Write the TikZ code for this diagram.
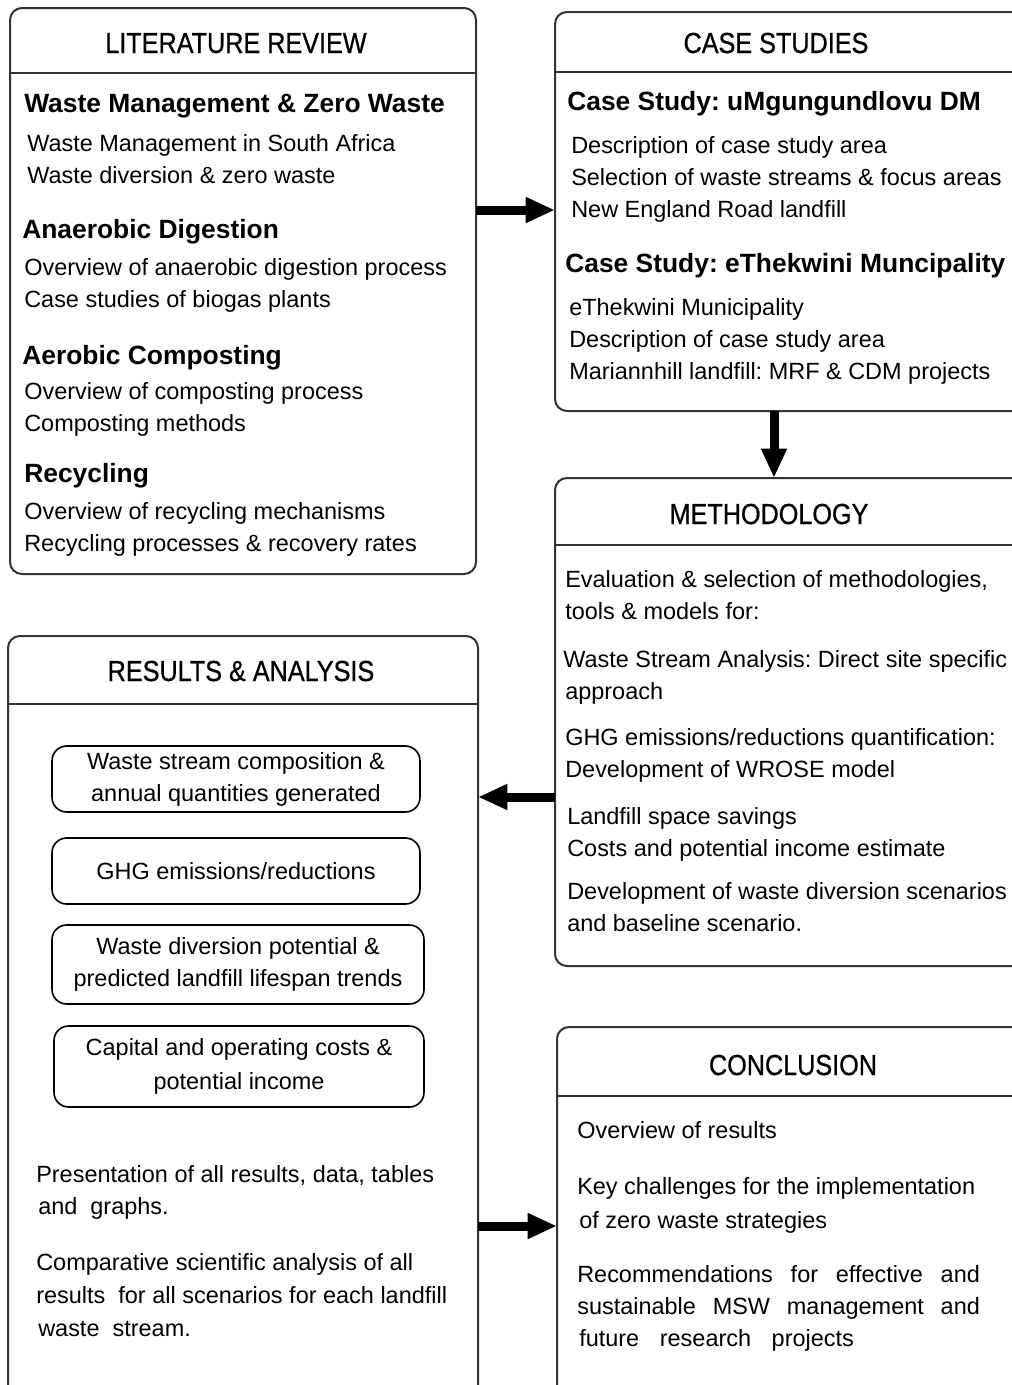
\documentclass[tikz,border=0pt]{standalone}
\usepackage{fontspec}
\setmainfont{Liberation Sans}
\newfontface\titleface{Liberation Sans}[FakeBold=0.8]
\usetikzlibrary{arrows.meta}
\frenchspacing
\newcommand{\bodyf}{\fontsize{17.6}{24}\selectfont}
\newcommand{\headf}{\fontsize{19.8}{24}\selectfont\bfseries}
\newcommand{\titlef}{\titleface\fontsize{18.9}{24}\selectfont}
\newcommand{\tl}[1]{\scalebox{1}[1.15]{#1}}
\tikzset{
  box/.style={draw=black!80, line width=1.5pt, rounded corners=9pt, anchor=north west, inner sep=0pt, outer sep=0pt},
  ibox/.style={draw=black, line width=1.2pt, rounded corners=11pt, anchor=north west, inner sep=0pt, outer sep=0pt, align=center, font=\bodyf},
  txt/.style={anchor=base west, inner sep=0pt, font=\bodyf},
  hd/.style={anchor=base west, inner sep=0pt, font=\headf},
  ttl/.style={anchor=base, inner sep=0pt, font=\titlef},
  sepline/.style={draw=black!80, line width=1.5pt},
  bigarrow/.style={line width=6.75pt, -{Triangle[length=22pt,width=18pt]}}
}
\begin{document}
\begin{tikzpicture}[x=0.75pt,y=-0.75pt]
\clip (0,0) rectangle (1012,1385);
\fill[white] (0,0) rectangle (1012,1385);
% main boxes
\node[box, minimum width=349.5pt, minimum height=424.5pt] (lit) at (10,8) {};
\node[box, minimum width=363.75pt, minimum height=299.25pt] (cs) at (555,12) {};
\node[box, minimum width=363.75pt, minimum height=366pt] (meth) at (555,478) {};
\node[box, minimum width=352.5pt, minimum height=588pt] (res) at (8,636) {};
\node[box, minimum width=362.25pt, minimum height=294.75pt] (conc) at (557,1027) {};
% header separators
\draw[sepline] (lit.west |- 0,73) -- (lit.east |- 0,73);
\draw[sepline] (cs.west |- 0,72) -- (cs.east |- 0,72);
\draw[sepline] (meth.west |- 0,545) -- (meth.east |- 0,545);
\draw[sepline] (res.west |- 0,704) -- (res.east |- 0,704);
\draw[sepline] (conc.west |- 0,1096) -- (conc.east |- 0,1096);
% titles
\node[ttl] (tlit) at (236,53) {\tl{LITERATURE REVIEW}};
\node[ttl] (tcs) at (776,53) {\tl{CASE STUDIES}};
\node[ttl] (tmeth) at (769,524) {\tl{METHODOLOGY}};
\node[ttl] (tres) at (241,681) {\tl{RESULTS \& ANALYSIS}};
\node[ttl] (tconc) at (793,1075) {\tl{CONCLUSION}};
% literature review
\node[hd] (l1) at (24,112) {Waste Management \& Zero Waste};
\node[txt] (l2) at (27,151) {Waste Management in South Africa};
\node[txt] (l3) at (27,183) {Waste diversion \& zero waste};
\node[hd] (l4) at (22,238) {Anaerobic Digestion};
\node[txt] (l5) at (24,275) {Overview of anaerobic digestion process};
\node[txt] (l6) at (24,307) {Case studies of biogas plants};
\node[hd] (l7) at (22,364) {Aerobic Composting};
\node[txt] (l8) at (24,399) {Overview of composting process};
\node[txt] (l9) at (24,431) {Composting methods};
\node[hd] (l10) at (24,482) {Recycling};
\node[txt] (l11) at (24,519) {Overview of recycling mechanisms};
\node[txt] (l12) at (24,551) {Recycling processes \& recovery rates};
% case studies
\node[hd] (c1) at (567,110) {Case Study: uMgungundlovu DM};
\node[txt] (c2) at (571,153) {Description of case study area};
\node[txt] (c3) at (571,185) {Selection of waste streams \& focus areas};
\node[txt] (c4) at (571,217) {New England Road landfill};
\node[hd] (c5) at (565,272) {Case Study: eThekwini Muncipality};
\node[txt] (c6) at (569,315) {eThekwini Municipality};
\node[txt] (c7) at (569,347) {Description of case study area};
\node[txt] (c8) at (569,379) {Mariannhill landfill: MRF \& CDM projects};
% methodology
\node[txt] (m1) at (565,587) {Evaluation \& selection of methodologies,};
\node[txt] (m2) at (565,619) {tools \& models for:};
\node[txt] (m3) at (563,667) {Waste Stream Analysis: Direct site specific};
\node[txt] (m4) at (565,699) {approach};
\node[txt] (m5) at (565,745) {GHG emissions/reductions quantification:};
\node[txt] (m6) at (565,777) {Development of WROSE model};
\node[txt] (m7) at (567,824) {Landfill space savings};
\node[txt] (m8) at (567,856) {Costs and potential income estimate};
\node[txt] (m9) at (567,899) {Development of waste diversion scenarios};
\node[txt] (m10) at (567,931) {and baseline scenario.};
% results inner boxes
\node[ibox, minimum width=276pt, minimum height=49.5pt] (r1) at (52,746) {Waste stream composition \&\\annual quantities generated};
\node[ibox, minimum width=276pt, minimum height=49.5pt] (r2) at (52,838) {GHG emissions/reductions};
\node[ibox, minimum width=279pt, minimum height=59.25pt] (r3) at (52,925) {Waste diversion potential \&\\predicted landfill lifespan trends};
\node[ibox, minimum width=277.5pt, minimum height=60.75pt] (r4) at (54,1026) {Capital and operating costs \&\\[1.5pt]potential income};
% results text
\node[txt] (r5) at (36,1182) {Presentation of all results, data, tables};
\node[txt] (r6) at (38,1214) {and\ \ graphs.};
\node[txt] (r7) at (36,1270) {Comparative scientific analysis of all};
\node[txt] (r8) at (36,1303) {results\ \ for all scenarios for each landfill};
\node[txt] (r9) at (38,1336) {waste\ \ stream.};
% conclusion
\node[txt] (k1) at (577,1138) {Overview of results};
\node[txt] (k2) at (577,1194) {Key challenges for the implementation};
\node[txt] (k3) at (579,1228) {of zero waste strategies};
\node[txt] (k4) at (577,1282) {\makebox[302pt][s]{Recommendations for effective and}};
\node[txt] (k5) at (577,1314) {\makebox[302pt][s]{sustainable MSW management and}};
\node[txt] (k6) at (579,1346) {\makebox[206pt][s]{future research projects}};
% arrows
\draw[bigarrow] (lit.east |- 0,210) -- (cs.west |- 0,210);
\draw[bigarrow] (cs.south -| 774,0) -- (meth.north -| 774,0);
\draw[bigarrow] (meth.west |- 0,797) -- (res.east |- 0,797);
\draw[bigarrow] (res.east |- 0,1226) -- (conc.west |- 0,1226);
\end{tikzpicture}
\end{document}
